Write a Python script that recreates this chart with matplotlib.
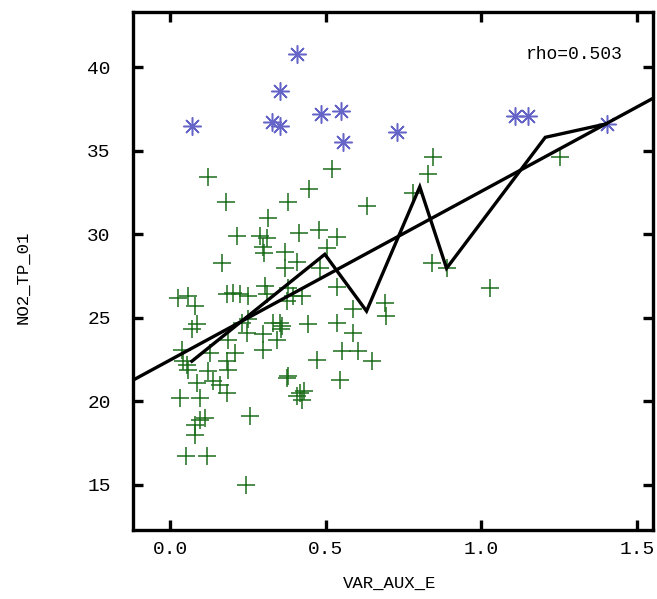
import matplotlib
matplotlib.use("Agg")
import matplotlib.pyplot as plt
import numpy as np

# ---- data ----
green_x = [0.519, 0.123, 0.447, 0.180, 0.380, 0.631, 0.316, 0.214, 0.289, 0.310,
           0.415, 0.479, 0.535, 0.300, 0.302, 0.369, 0.503, 0.166, 0.407, 0.369,
           0.481, 0.535, 0.305, 0.380,
           0.027, 0.059, 0.080, 0.182, 0.203, 0.225, 0.251, 0.310, 0.396, 0.374,
           0.423, 0.588, 0.690, 0.695, 0.086, 0.070, 0.230, 0.251, 0.246, 0.300,
           0.332, 0.353, 0.360, 0.357, 0.342, 0.444, 0.535, 0.588, 0.187, 0.300,
           0.209, 0.128, 0.038, 0.043, 0.054, 0.059, 0.182, 0.187, 0.123, 0.086,
           0.139, 0.160, 0.182, 0.032, 0.096, 0.471, 0.551, 0.604, 0.647, 0.546,
           0.374, 0.380, 0.417, 0.407, 0.423, 0.430, 0.096, 0.112, 0.257, 0.080,
           0.080, 0.052, 0.118, 0.244,
           0.845, 0.829, 0.781, 1.252, 0.840, 0.888, 1.027]
green_y = [33.9, 33.4, 32.7, 31.9, 31.9, 31.7, 31.0, 29.9, 29.9, 29.75,
           30.1, 30.25, 29.85, 29.25, 28.86, 28.95, 29.15, 28.26, 28.36, 27.96,
           27.96, 26.86, 26.9, 26.8,
           26.2, 26.3, 25.7, 26.4, 26.5, 26.4, 26.3, 26.4, 26.3, 26.0,
           26.3, 25.5, 25.9, 25.1, 24.6, 24.3, 24.7, 24.9, 24.1, 24.0,
           24.7, 24.7, 24.5, 24.3, 23.7, 24.6, 24.7, 24.1, 23.7, 23.1,
           22.9, 22.9, 23.1, 22.4, 22.2, 21.9, 22.4, 21.9, 21.8, 21.1,
           21.2, 21.0, 20.5, 20.2, 20.2, 22.5, 23.0, 23.0, 22.4, 21.3,
           21.4, 21.5, 20.5, 20.3, 20.1, 20.6, 18.9, 19.0, 19.1, 18.6,
           18.0, 16.7, 16.7, 15.0,
           34.6, 33.6, 32.45, 34.6, 28.3, 27.96, 26.8]

blue_x = [0.069, 0.408, 0.353, 0.326, 0.353, 0.484, 0.550, 0.555, 0.730, 1.107, 1.150, 1.402]
blue_y = [36.5, 40.8, 38.6, 36.7, 36.5, 37.2, 37.4, 35.5, 36.1, 37.1, 37.1, 36.6]

smooth_x = [0.070, 0.497, 0.631, 0.802, 0.888, 1.205, 1.400]
smooth_y = [22.4, 28.8, 25.4, 32.84, 27.96, 35.8, 36.6]

fit_intercept = 22.47
fit_slope = 10.1

x_ticks = [0.0, 0.5, 1.0, 1.5]
x_tick_labels = ["0.0", "0.5", "1.0", "1.5"]
y_ticks = [15, 20, 25, 30, 35, 40]
y_tick_labels = ["15", "20", "25", "30", "35", "40"]
rho_text = "rho=0.503"
x_label = "VAR_AUX_E"
y_label = "NO2_TP_01"

# ---- plotting ----
FONT = "Liberation Mono"
W, H = 657, 599
fig = plt.figure(figsize=(W / 100, H / 100), dpi=100)
ax = fig.add_axes([133 / W, 1 - 530 / H, 520 / W, 518 / H])

xmin, xmax = -0.119, 1.551
ax.set_xlim(xmin, xmax)
ax.set_ylim(12.3, 43.3)

ax.plot(green_x, green_y, linestyle="none", marker="+", markersize=12.5,
        markeredgewidth=1.1, color="#1c6e1c", zorder=2)
ax.plot(blue_x, blue_y, linestyle="none", marker=(8, 2, 0), markersize=13,
        markeredgewidth=1.1, color="#6565c8", zorder=2)

fx = np.array([xmin, xmax])
ax.plot(fx, fit_intercept + fit_slope * fx, color="black", linewidth=2.4, zorder=3)
ax.plot(smooth_x, smooth_y, color="black", linewidth=2.4, zorder=3,
        solid_joinstyle="miter")

ax.set_xticks(x_ticks)
ax.set_xticklabels(x_tick_labels, fontfamily=FONT, fontsize=14)
ax.set_yticks(y_ticks)
ax.set_yticklabels(y_tick_labels, fontfamily=FONT, fontsize=14)
ax.tick_params(direction="in", length=7, width=2.4, top=True, right=True,
               labeltop=False, labelright=False)
ax.tick_params(axis="x", pad=8)
ax.tick_params(axis="y", pad=16)
for s in ax.spines.values():
    s.set_linewidth(2.4)

ax.text(1.454, 40.76, rho_text, ha="right", va="center", fontfamily=FONT, fontsize=13)

fig.text(390 / W, 1 - 583 / H, x_label, ha="center", va="center",
         fontfamily=FONT, fontsize=12.5)
fig.text(23 / W, 1 - 277 / H, y_label, ha="center", va="center", rotation=90,
         fontfamily=FONT, fontsize=12.5)

fig.savefig("out.png", dpi=100)
